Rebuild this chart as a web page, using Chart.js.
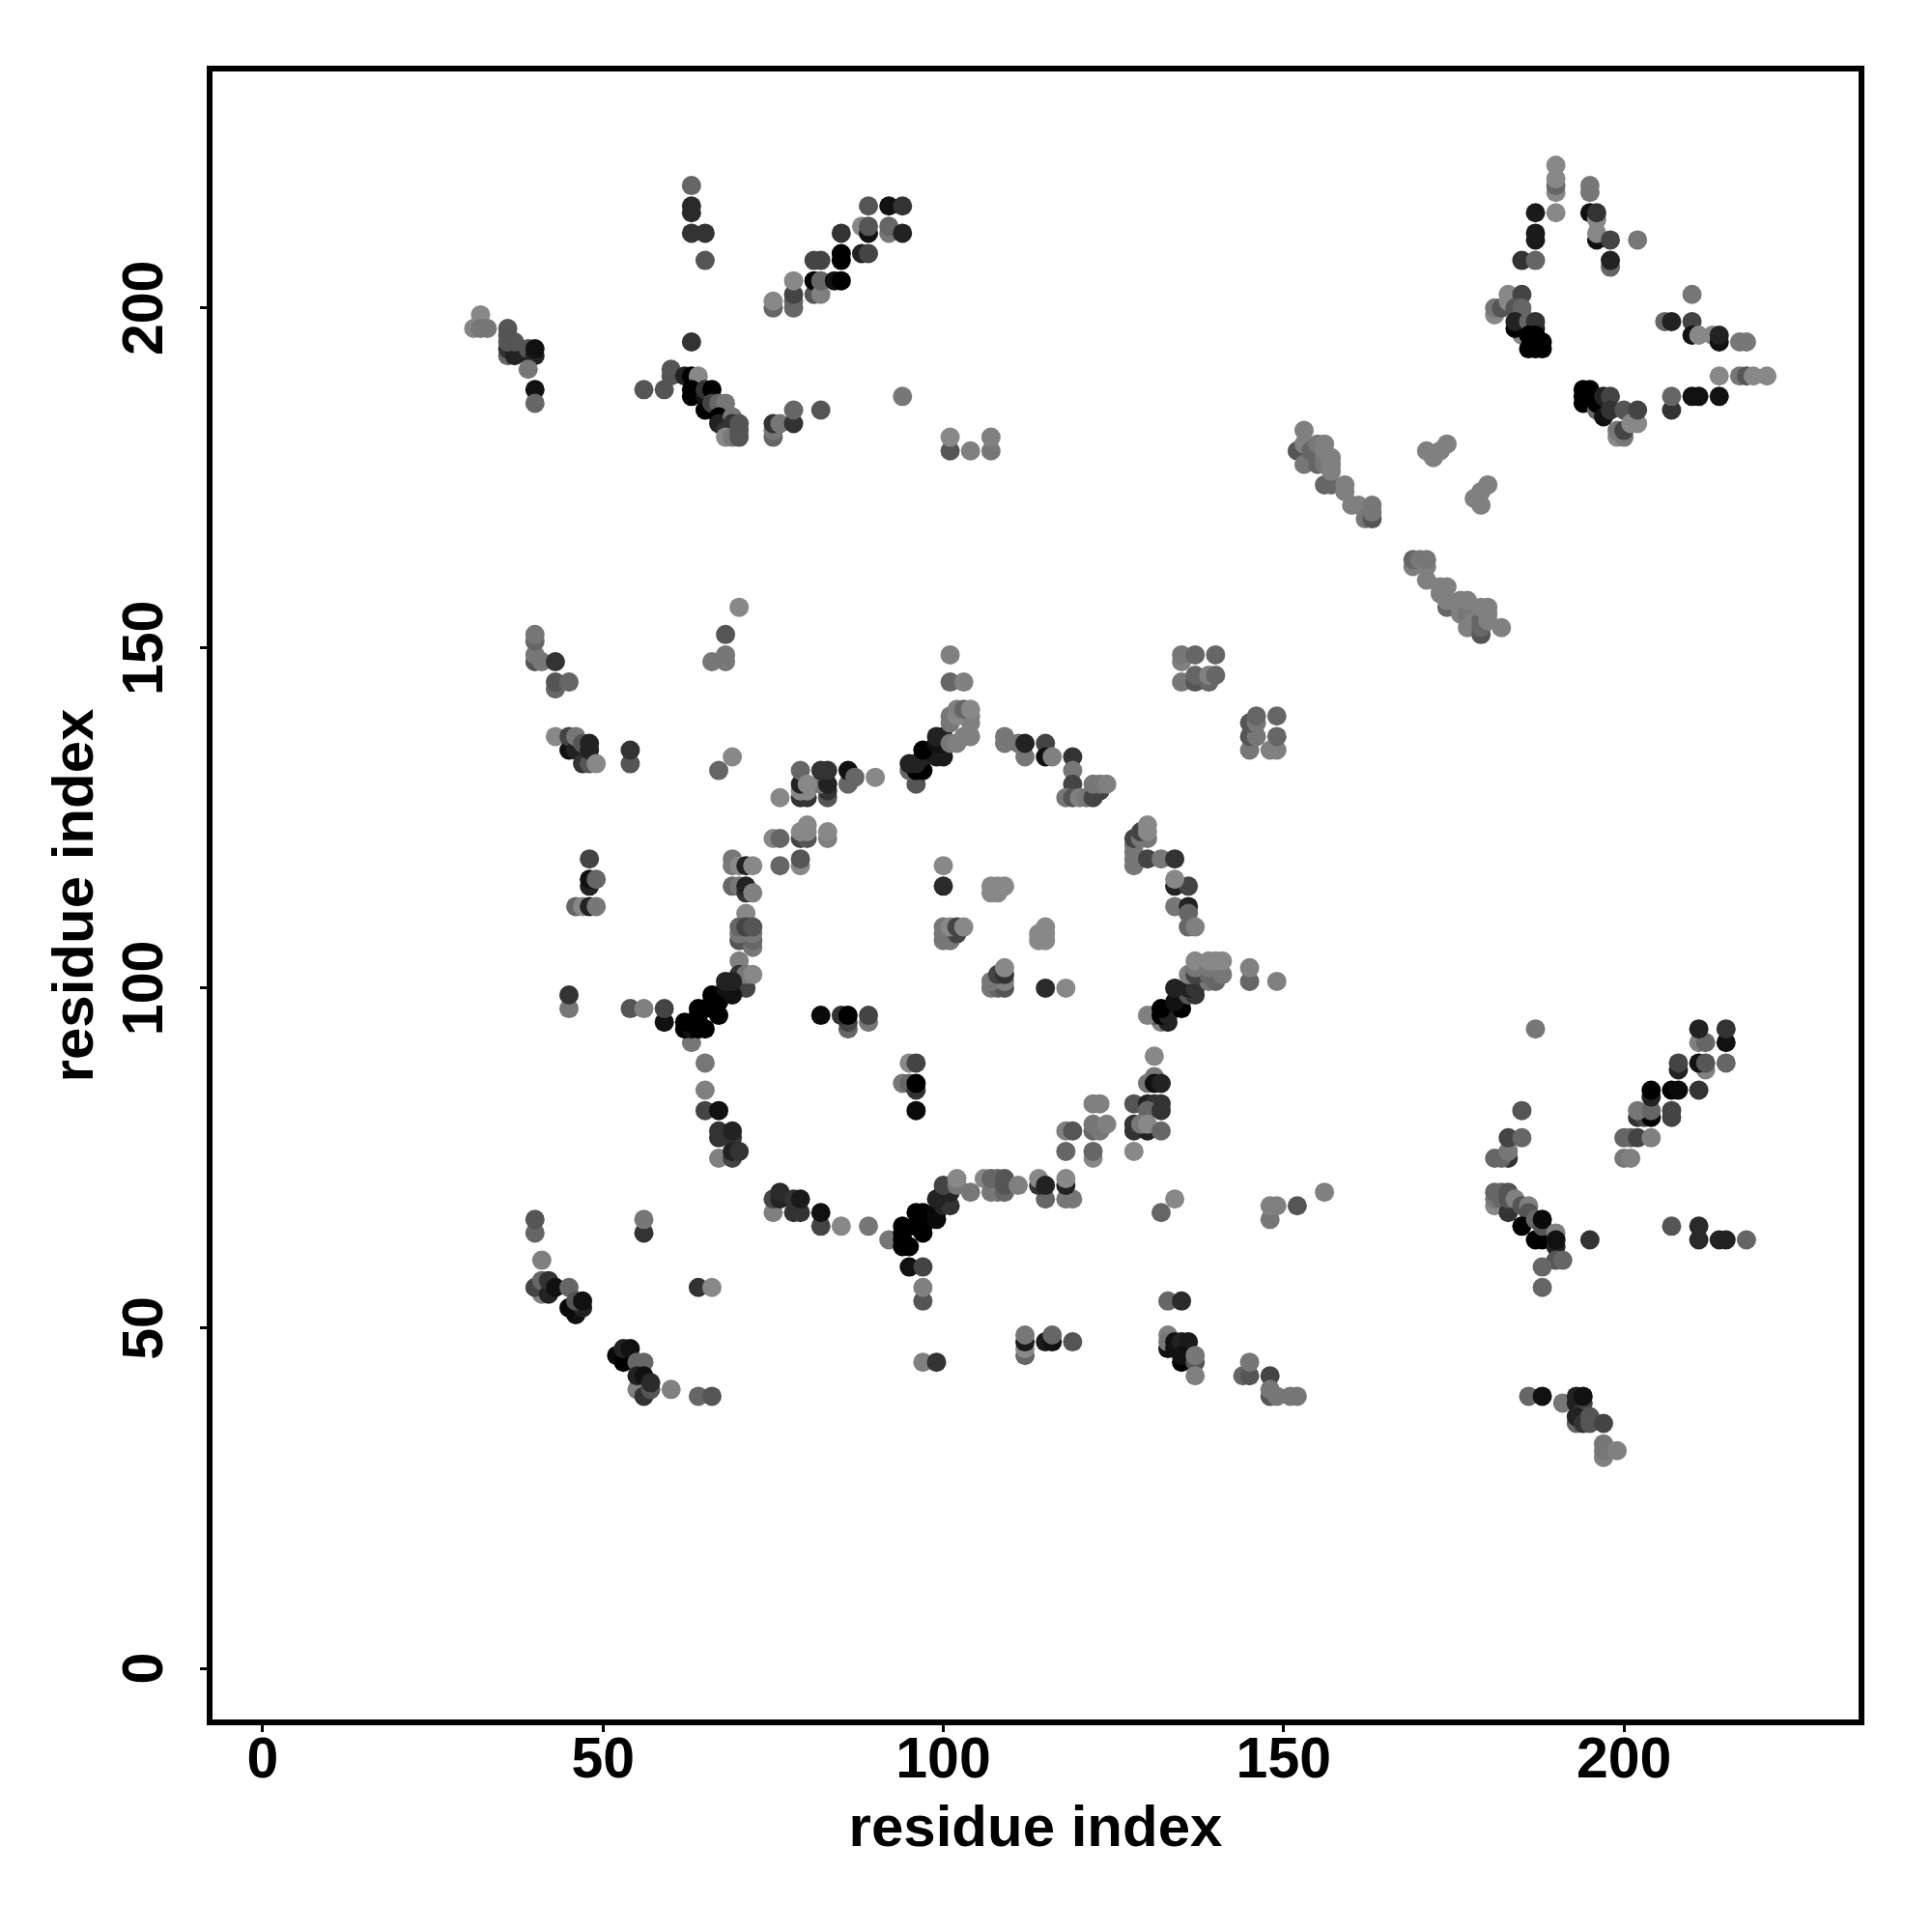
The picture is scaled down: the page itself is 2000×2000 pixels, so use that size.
<!DOCTYPE html>
<html>
<head>
<meta charset="utf-8">
<title>residue contacts</title>
<script src="https://cdn.jsdelivr.net/npm/chart.js@4/dist/chart.umd.min.js"></script>
<style>
html, body { margin: 0; padding: 0; background: #fff; }
canvas { display: block; }
</style>
</head>
<body>
<canvas id="contacts" width="2000" height="2000"></canvas>
<script>
// each contact is [residue x, residue y, grey level]
const topLeftA = [[32,199,136],[31,197,133],[33,197,119],[32,197,119],[36,197,85],[36,196,85],[36,193,102],[36,194,51],[37,193,34],[36,195,85],[37,195,85],[39,193,34],[39,194,85],[40,193,34],[40,194,17],[39,191,119],[40,188,17],[40,186,102]];
const topLeftB = [[63,218,102],[63,215,42],[63,214,42],[63,211,51],[65,211,51],[65,207,85],[63,195,51]];
const topDiagonal = [[75,200,102],[75,201,136],[78,200,102],[78,201,102],[78,202,68],[78,204,136],[81,202,85],[81,204,0],[82,202,128],[82,204,102],[81,207,68],[82,207,68],[84,204,17],[85,204,0],[85,207,0],[85,208,0],[85,211,51],[88,208,34],[89,208,68],[88,212,136],[89,211,17],[89,212,85],[89,215,85],[92,215,17],[94,215,51],[92,211,119],[92,212,102],[94,211,34]];
const topLower = [[56,188,85],[59,188,85],[60,190,85],[60,191,85],[62,190,34],[63,190,0],[64,190,136],[63,187,0],[63,188,0],[65,185,0],[65,187,17],[65,188,51],[66,188,0],[66,186,68],[67,186,102],[68,186,119],[67,184,0],[67,183,34],[69,184,119],[69,183,51],[68,182,51],[68,181,136],[69,181,119],[70,183,85],[70,182,85],[70,181,85],[75,181,102],[75,182,119],[75,183,51],[76,183,119],[78,183,51],[78,185,102],[82,185,85],[94,187,119],[101,179,85],[101,181,136],[104,179,128],[107,179,119],[107,181,128]];
const topRightPeak = [[190,221,136],[190,217,136],[190,218,102],[190,219,136],[190,214,136],[187,214,26],[187,210,26],[187,211,26],[185,207,51],[187,207,102],[195,217,119],[195,218,119],[195,214,17],[196,210,17],[196,213,136],[196,211,136],[196,214,51],[198,210,68],[202,210,119],[198,206,102],[198,207,34]];
const topRightArm = [[181,199,136],[181,200,119],[182,200,85],[183,201,136],[183,202,136],[185,202,68],[185,196,136],[184,200,85],[185,199,102],[185,200,102],[184,197,0],[184,198,34],[186,198,102],[187,197,34],[187,198,51],[186,196,0],[187,196,0],[186,194,0],[187,194,0],[188,194,0],[188,195,0]];
const topRightLeaves = [[210,202,119],[206,198,102],[207,198,34],[210,198,68],[210,196,17],[211,196,136],[213,196,136],[214,195,17],[214,196,34],[217,195,119],[218,195,119],[214,190,136],[217,190,119],[218,190,85],[219,190,136],[221,190,136]];
const topRightLower = [[194,186,0],[194,187,0],[194,188,0],[195,187,0],[195,188,0],[196,185,102],[196,186,0],[197,187,34],[198,187,68],[197,184,17],[198,185,51],[200,185,85],[199,181,136],[200,181,119],[199,182,119],[200,182,68],[201,183,136],[202,183,136],[202,185,68],[207,185,51],[207,187,102],[210,187,17],[211,187,17],[214,187,17]];
const middleStrandA = [[152,179,85],[153,182,128],[153,180,128],[153,177,119],[154,178,119],[154,179,102],[155,177,102],[155,178,102],[155,180,119],[156,174,102],[157,174,102],[156,177,119],[156,178,119],[156,179,128],[156,180,128],[157,176,128],[157,177,128],[157,178,128],[159,173,128],[159,174,128],[160,171,128],[161,171,128],[162,169,119],[163,169,85],[163,170,119],[163,171,119]];
const middleStrandB = [[171,179,128],[172,178,128],[173,179,128],[174,180,128],[178,172,128],[179,171,128],[179,173,128],[180,174,128]];
const middleStrandC = [[169,162,128],[169,163,102],[170,163,119],[171,160,128],[171,162,128],[171,163,119],[173,158,128],[173,159,128],[174,159,128],[174,156,102],[174,157,128],[176,155,128],[176,156,128],[176,157,128],[177,155,119],[177,157,128],[177,153,128],[178,154,128],[179,152,85],[179,153,102],[179,154,102],[179,156,128],[180,154,128],[180,155,128],[180,156,128],[182,153,128]];
const leftUpper = [[40,148,85],[40,149,119],[40,151,102],[40,152,119],[41,148,119],[43,148,51],[43,144,102],[43,145,85],[45,145,102],[43,137,136],[45,135,17],[45,137,68],[46,135,34],[46,137,119],[47,133,51],[47,136,85],[48,133,85],[48,135,34],[48,136,34],[49,133,136],[54,133,85],[54,135,51]];
const leftUpperScatter = [[70,156,136],[68,152,85],[66,148,119],[68,148,119],[68,149,119],[69,134,136],[67,132,102]];
const ringTopLeft = [[76,128,136],[79,128,51],[80,128,51],[83,128,85],[83,129,51],[79,129,136],[80,129,136],[79,130,34],[82,130,119],[83,130,34],[79,132,102],[82,132,51],[83,132,51],[80,130,136],[86,130,102],[86,132,17],[87,131,102],[90,131,136],[75,122,136],[76,122,102],[79,122,68],[80,122,85],[79,123,136],[80,123,136],[80,124,136],[83,122,128],[83,123,136],[76,118,102],[79,118,136],[79,119,85]];
const ringLeft = [[69,119,119],[69,118,119],[70,118,136],[71,118,34],[72,118,136],[69,115,102],[70,115,119],[71,114,51],[71,115,34],[72,114,128],[71,111,136],[70,107,85],[71,107,85],[72,106,119],[72,107,102],[70,108,119],[72,108,119],[70,109,102],[71,109,68],[72,109,85],[70,104,128],[71,100,68],[70,102,51],[71,102,119],[72,102,136]];
const ringLeftCorner = [[63,92,119],[62,94,0],[63,94,17],[64,94,0],[65,94,0],[62,95,0],[64,95,0],[64,96,0],[64,97,0],[67,96,0],[66,97,0],[66,98,0],[67,98,0],[66,99,0],[69,99,17],[68,100,17],[68,101,34],[69,101,34]];
const farLeftMiddle = [[48,119,68],[48,115,34],[48,116,17],[49,116,102],[46,112,102],[47,112,136],[48,112,34],[49,112,119],[45,97,119],[45,99,51],[54,97,85],[56,97,128],[59,95,17],[59,97,68],[65,89,119],[65,85,128],[65,82,68],[67,82,17]];
const innerLeft = [[82,96,10],[86,94,102],[86,95,68],[85,96,51],[86,96,0],[89,95,119],[89,96,68],[95,89,136],[96,89,68],[94,86,119],[95,86,102],[96,85,51],[96,86,0],[96,82,10]];
const innerRight = [[100,118,136],[100,115,42],[107,114,136],[108,114,136],[107,115,136],[108,115,136],[109,115,136],[100,107,119],[101,107,119],[100,108,119],[102,108,68],[100,109,119],[101,109,136],[102,109,68],[103,109,136],[114,107,136],[115,107,136],[114,108,136],[115,108,136],[115,109,136],[107,100,119],[108,100,102],[109,100,85],[107,101,119],[109,101,128],[108,102,68],[109,102,51],[109,103,136],[115,100,42],[118,100,136]];
const ringTop = [[96,130,85],[95,132,102],[96,132,0],[97,132,0],[95,133,34],[96,133,34],[97,134,34],[99,134,26],[100,134,26],[97,135,0],[99,136,17],[100,136,17],[99,137,34],[100,137,34],[101,136,119],[102,136,128],[103,137,128],[104,137,128],[101,139,119],[104,139,128],[101,140,119],[102,140,136],[104,140,128],[102,141,128],[103,141,102],[104,141,136],[101,145,102],[103,145,128],[101,149,128]];
const ringTopRight = [[109,136,119],[109,137,119],[111,136,119],[112,134,119],[112,136,34],[115,136,68],[115,134,17],[116,134,128],[119,134,51],[119,132,119],[119,130,68],[118,128,119],[119,128,85],[120,128,128],[121,128,119],[122,128,68],[123,129,68],[122,130,119],[123,130,119],[124,130,128]];
const ringRightTop = [[128,118,119],[128,119,119],[128,120,119],[128,121,119],[128,122,68],[129,122,119],[130,122,119],[129,123,68],[130,123,136],[130,124,136],[130,119,68],[132,119,119],[134,119,51],[134,115,34],[136,115,68],[134,116,136],[134,112,119],[136,112,34],[136,111,102],[136,109,102],[137,109,128]];
const upperRightBlock = [[135,145,119],[137,145,85],[139,145,102],[137,146,102],[139,146,128],[140,146,102],[135,148,128],[135,149,119],[137,149,102],[140,149,102],[145,135,119],[148,135,128],[149,135,128],[145,137,85],[146,137,119],[149,137,102],[145,139,85],[146,139,119],[146,140,102],[149,140,102]];
const ringRight = [[132,95,128],[133,95,34],[131,96,85],[130,96,128],[132,96,0],[133,96,34],[132,97,0],[135,97,0],[134,98,17],[136,99,85],[137,99,51],[134,100,34],[136,100,34],[137,100,51],[139,101,119],[140,101,102],[136,102,128],[137,102,68],[139,102,102],[141,102,119],[137,103,119],[137,104,136],[139,103,119],[139,104,136],[140,104,136],[141,104,136],[145,101,102],[145,103,128],[149,101,128]];
const ringBottomRight = [[131,90,136],[131,87,119],[130,86,119],[131,86,17],[132,86,34],[128,83,85],[130,83,34],[131,83,51],[132,83,51],[130,82,102],[132,82,51],[128,79,51],[128,80,51],[130,79,34],[129,80,119],[130,80,136],[132,79,102],[128,76,136],[122,83,128],[123,83,128],[118,79,128],[119,79,85],[122,79,102],[122,80,119],[123,79,119],[124,80,128],[118,76,102],[122,75,136],[122,76,102]];
const ringBottomLeft = [[67,78,51],[69,78,51],[67,79,51],[69,79,34],[67,75,128],[69,75,68],[69,76,34],[70,76,51],[75,67,128],[78,67,51],[79,67,51],[75,69,68],[76,69,34],[76,70,42],[78,69,51],[79,69,26],[82,65,68],[82,67,17],[85,65,136],[89,65,119],[92,63,119]];
const ringBottom = [[94,62,0],[95,62,0],[94,63,0],[94,64,0],[97,64,0],[94,65,0],[96,65,0],[97,65,0],[96,67,0],[97,67,0],[99,66,10],[99,67,10],[100,68,34],[101,68,51],[99,69,34],[100,70,34],[101,70,34],[100,71,68],[102,71,119],[102,72,136],[104,70,119],[106,72,136],[107,70,119],[108,70,119],[107,72,102],[108,72,102],[109,70,102],[109,71,85],[109,72,85],[111,71,128],[115,69,102],[114,71,51],[114,72,136],[115,71,34],[118,69,119],[119,69,119],[118,71,34],[118,72,136],[95,59,17],[97,59,68],[97,54,85],[97,56,128]];
const lowerScatter = [[132,67,102],[134,69,136],[148,66,119],[148,68,128],[149,68,128],[152,68,85],[156,70,128]];
const lowerLeftA = [[40,64,102],[40,66,85],[56,64,51],[56,66,119],[41,60,128],[41,55,128],[40,56,68],[41,57,102],[42,55,34],[42,57,51],[43,56,17],[45,56,102],[46,52,17],[45,53,10],[47,53,34],[46,54,85],[47,54,17],[64,56,51],[66,56,136]];
const lowerLeftB = [[52,46,10],[53,45,0],[53,47,34],[54,47,17],[55,45,102],[56,45,102],[55,41,128],[56,40,51],[57,41,85],[55,43,34],[56,43,17],[57,42,42],[60,41,128],[64,40,102],[66,40,85],[97,45,128],[99,45,51]];
const lowerMiddleA = [[112,46,102],[112,47,136],[112,48,26],[112,49,119],[115,48,26],[116,48,17],[116,49,102],[119,48,85],[133,54,102],[135,54,42]];
const lowerMiddleB = [[133,49,128],[133,47,17],[133,48,119],[134,47,17],[134,48,17],[135,48,34],[136,48,26],[135,45,0],[135,46,17],[137,45,85],[137,46,119],[137,43,128],[144,43,102],[145,43,85],[145,45,119],[148,43,68],[148,40,85],[148,41,119],[149,40,119],[151,40,119],[152,40,119]];
const rightStem = [[181,68,136],[181,69,119],[181,70,102],[182,69,102],[182,70,102],[183,67,51],[183,69,85],[183,70,85],[184,69,128],[185,68,85],[186,68,128],[186,67,85],[185,65,0],[187,66,102],[187,63,0],[188,63,0],[188,65,85],[188,66,10],[190,64,128],[190,62,34],[190,63,17],[190,60,85],[191,60,102],[188,59,102],[188,56,102],[195,63,51]];
const rightStemTop = [[187,94,119],[185,82,85],[183,75,51],[181,75,102],[182,75,102],[183,76,119],[183,78,68],[185,78,102]];
const rightDiagonal = [[200,75,119],[201,75,128],[200,78,102],[201,78,102],[202,78,68],[204,78,128],[202,81,51],[203,81,68],[204,81,0],[202,82,119],[204,82,102],[207,81,68],[207,82,68],[204,84,34],[204,85,0],[207,85,0],[208,85,10],[211,85,51],[208,88,34],[208,89,68],[212,88,128],[211,89,17],[212,89,85],[215,89,102],[211,92,128],[212,92,102],[215,92,17],[211,94,34],[215,94,51]];
const rightLeaves = [[207,65,85],[211,63,42],[211,65,42],[214,63,34],[215,63,34],[218,63,102]];
const bottomRight = [[186,40,102],[188,40,17],[191,39,119],[193,39,34],[194,39,68],[193,40,34],[194,40,17],[193,36,102],[193,37,34],[194,36,51],[195,36,85],[195,37,85],[197,36,68],[197,31,128],[197,32,119],[197,33,119],[199,32,128]];

const contacts = [
    topLeftA, topLeftB, topDiagonal, topLower, topRightPeak, topRightArm, topRightLeaves, topRightLower,
    middleStrandA, middleStrandB, middleStrandC, leftUpper, leftUpperScatter, ringTopLeft, ringLeft, ringLeftCorner,
    farLeftMiddle, innerLeft, innerRight, ringTop, ringTopRight, ringRightTop, upperRightBlock, ringRight,
    ringBottomRight, ringBottomLeft, ringBottom, lowerScatter, lowerLeftA, lowerLeftB, lowerMiddleA, lowerMiddleB,
    rightStem, rightStemTop, rightDiagonal, rightLeaves, bottomRight
].flat();

const xMin = -7.8;
const xMax = 234.9;
const yMin = -7.95;
const yMax = 235.2;
const axisStep = 50;
const axisTitle = 'residue index';

const tickFont = {family: '"Liberation Sans"', size: 59, weight: 'bold'};
const titleFont = {family: '"Liberation Sans"', size: 60, weight: 'bold'};

// R draws a box around the plot and turned y labels, Chart.js only does the first with help
const boxAndYLabels = {
    id: 'boxAndYLabels',
    afterDraw(chart) {
        const ctx = chart.ctx;
        const area = chart.chartArea;
        ctx.save();
        ctx.strokeStyle = '#000';
        ctx.lineWidth = 6;
        ctx.strokeRect(area.left, area.top, area.right - area.left, area.bottom - area.top);

        const y = chart.scales.y;
        ctx.fillStyle = '#000';
        ctx.font = 'bold 59px "Liberation Sans"';
        ctx.textAlign = 'center';
        ctx.textBaseline = 'middle';
        y.ticks.forEach(function (tick) {
            ctx.save();
            ctx.translate(152, y.getPixelForValue(tick.value));
            ctx.rotate(-Math.PI / 2);
            ctx.fillText(String(tick.value), 0, 0);
            ctx.restore();
        });
        ctx.restore();
    }
};

new Chart(document.getElementById('contacts').getContext('2d'), {
    type: 'scatter',
    data: {
        datasets: [{
            data: contacts.map(function (c) { return {x: c[0], y: c[1]}; }),
            backgroundColor: contacts.map(function (c) { return 'rgb(' + c[2] + ',' + c[2] + ',' + c[2] + ')'; }),
            pointRadius: 10,
            pointBorderWidth: 0,
            pointHoverRadius: 10
        }]
    },
    options: {
        responsive: false,
        animation: false,
        layout: {padding: {top: 71, right: 73, left: 0, bottom: 0}},
        plugins: {legend: {display: false}, tooltip: {enabled: false}},
        scales: {
            x: {
                type: 'linear',
                min: xMin,
                max: xMax,
                afterFit: function (scale) { scale.height = 217; },
                grid: {drawOnChartArea: false, tickLength: 10, tickWidth: 3, tickColor: '#000'},
                border: {display: false},
                ticks: {stepSize: axisStep, includeBounds: false, color: '#000', font: tickFont, padding: -5, maxRotation: 0},
                title: {display: true, text: axisTitle, color: '#000', font: titleFont, padding: {top: 0, bottom: 70}}
            },
            y: {
                type: 'linear',
                min: yMin,
                max: yMax,
                afterFit: function (scale) { scale.width = 217; },
                grid: {drawOnChartArea: false, tickLength: 10, tickWidth: 3, tickColor: '#000'},
                border: {display: false},
                ticks: {stepSize: axisStep, includeBounds: false, display: false},
                title: {display: true, text: axisTitle, color: '#000', font: titleFont, padding: {top: 43, bottom: 0}}
            }
        }
    },
    plugins: [boxAndYLabels]
});
</script>
</body>
</html>
